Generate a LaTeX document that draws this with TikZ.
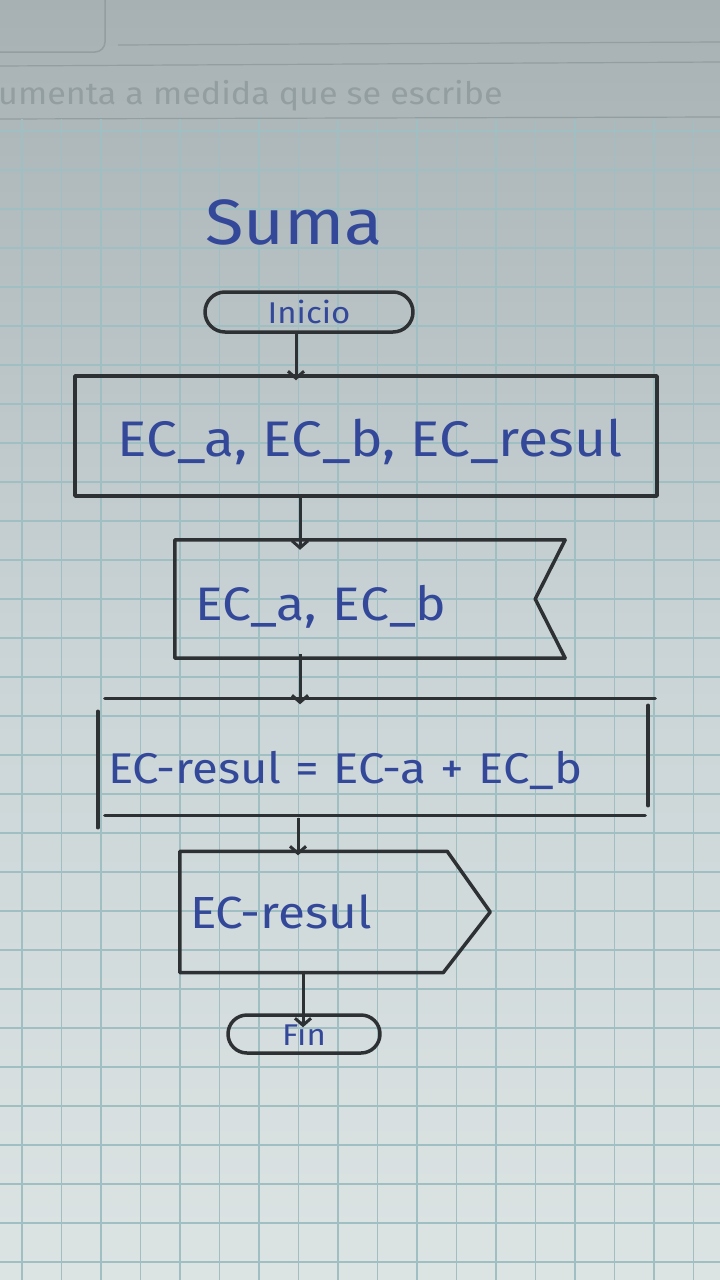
\documentclass[tikz,border=0pt]{standalone}
\usepackage{fontspec}
\setmainfont{Fira Sans}[FakeStretch=1.1]
\usetikzlibrary{shapes.misc,arrows.meta}
\definecolor{inkc}{HTML}{2E3133}
\definecolor{bluec}{HTML}{34489A}
\definecolor{gridc}{HTML}{9FBFC3}
\definecolor{papertop}{HTML}{A7B0B3}
\definecolor{papermid}{HTML}{CAD4D6}
\definecolor{paperbot}{HTML}{DCE3E3}
\definecolor{faint}{HTML}{939EA1}
\tikzset{
  ink/.style={draw=inkc, line width=3.5pt, line cap=round, line join=round},
  txt/.style={text=bluec, font=\fontsize{40}{44}\selectfont, inner sep=0pt},
  arr/.style={draw=inkc, line width=3pt, -{Straight Barb[length=7pt,width=16pt]}},
  gridline/.style={draw=gridc, line width=1.3pt},
  term/.style={ink, rounded rectangle, inner sep=0pt, text=bluec, font=\fontsize{30}{32}\selectfont},
  boxnode/.style={txt, inner xsep=0pt, inner ysep=0pt, align=left},
}
\begin{document}
\begin{tikzpicture}[x=1pt,y=-1pt]
\useasboundingbox (0,0) rectangle (720,1280);
% paper
\shade[top color=papertop, bottom color=paperbot, middle color=papermid] (0,0) rectangle (720,1280);
% header of the sheet
\draw[draw=faint, line width=1.5pt, rounded corners=10pt] (-10,-10) rectangle (105,52);
\draw[draw=faint, line width=1.2pt] (118,45) -- (720,42);
\draw[draw=faint, line width=1.2pt] (0,66) -- (720,62);
\node[anchor=west, text=faint, font=\fontsize{31}{33}\selectfont, inner sep=0pt] (hdr) at (-2,96) {umenta a medida que se escribe};
\draw[draw=faint, line width=1.2pt] (0,119) -- (720,117);
% grid
\foreach \i in {0,...,17} \draw[gridline] ({22+39.5*\i},119) -- ++(0,1161);
\foreach \j in {0,...,29} \draw[gridline] (0,{131+39*\j}) -- ++(720,0);

% title
\node[text=bluec, font=\fontsize{64}{70}\selectfont, inner sep=0pt] (title) at (294,222) {Suma};

% start
\node[term, minimum width=208pt, minimum height=40pt] (inicio) at (309,312) {Inicio};

% box 1: declaration
\node[ink, txt, font=\fontsize{50}{54}\selectfont, minimum width=582pt, minimum height=120pt] (b1) at (366,436) {\hspace*{8pt}\rule{0pt}{50pt}EC\_a, EC\_b, EC\_resul};

% box 2: input
\node[boxnode, font=\fontsize{47}{50}\selectfont, text width=390pt, minimum height=118pt] (b2) at (370,599) {\hspace*{20pt}\rule{0pt}{50pt}EC\_a, EC\_b};
\draw[ink] (b2.north west) -- (b2.north east) -- ([xshift=-30pt]b2.east) -- (b2.south east) -- (b2.south west) -- cycle;

% box 3: process
\node[boxnode, font=\fontsize{43}{46}\selectfont, text width=550pt, minimum height=117pt] (b3) at (375,757) {\hspace*{8pt}\rule{0pt}{60pt}EC-resul = EC-a + EC\_b};
\draw[ink] ([xshift=5pt]b3.north west) -- ([xshift=5pt]b3.north east);
\draw[ink] ([xshift=5pt]b3.south west) -- ([xshift=-5pt]b3.south east);
\draw[ink] ([xshift=-2pt,yshift=-13pt]b3.north west) -- ([xshift=-2pt,yshift=-12pt]b3.south west);
\draw[ink] ([xshift=-2pt,yshift=-7pt]b3.north east) -- ([xshift=-2pt,yshift=10pt]b3.south east);

% box 4: output / display
\node[boxnode, font=\fontsize{45}{48}\selectfont, text width=310pt, minimum height=121pt] (b4) at (335,912) {\hspace*{10pt}EC-resul};
\draw[ink] (b4.north west) -- ([xshift=-43pt]b4.north east) -- (b4.east) -- ([xshift=-47pt]b4.south east) -- (b4.south west) -- cycle;

% end
\node[term, minimum width=152pt, minimum height=38pt] (fin) at (304,1034) {Fin};

% connectors
\draw[arr] ([xshift=-13pt,yshift=3pt]inicio.south) -- ([xshift=-13pt,yshift=-6pt]inicio.south |- b1.north);
\draw[arr] ([xshift=-66pt,yshift=3pt]b1.south) -- ([xshift=-66pt,yshift=-10pt]b1.south |- b2.north);
\draw[arr] ([xshift=-70pt,yshift=4pt]b2.south) -- ([xshift=-70pt,yshift=-6pt]b2.south |- b3.north);
\draw[arr] ([xshift=-77pt,yshift=-2pt]b3.south) -- ([xshift=-77pt,yshift=-4pt]b3.south |- b4.north);
\draw[arr] ([xshift=-32pt,yshift=2pt]b4.south) -- ([xshift=-32pt,yshift=-14pt]b4.south |- fin.north);
\end{tikzpicture}
\end{document}
